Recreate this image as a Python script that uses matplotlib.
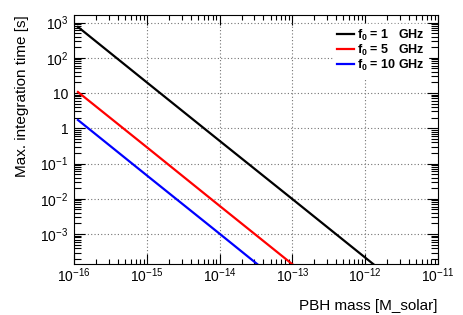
import matplotlib
matplotlib.use('Agg')
import matplotlib.pyplot as plt
from matplotlib.ticker import FixedLocator, FixedFormatter, LogLocator, NullFormatter

plt.rcParams['font.family'] = ['Liberation Sans', 'DejaVu Sans']
plt.rcParams['mathtext.fontset'] = 'custom'
plt.rcParams['mathtext.rm'] = 'Liberation Sans'
plt.rcParams['mathtext.it'] = 'Liberation Sans:italic'
plt.rcParams['mathtext.bf'] = 'Liberation Sans:bold'

# PBH mass [M_solar] and max. integration time [s]
mass = [1.13e-16, 1e-15, 1e-14, 1e-13, 1e-12, 1e-11]
t_1ghz = [750, 20, 0.44, 9.8e-3, 2.15e-4, 4.7e-6]
t_5ghz = [10.7, 0.29, 6.3e-3, 1.39e-4, 3.1e-6, 6.8e-8]
t_10ghz = [1.72, 0.046, 1.02e-3, 2.2e-5, 4.9e-7, 1.1e-8]

labels = ['f$_\\mathbf{0}$ = 1   GHz', 'f$_\\mathbf{0}$ = 5   GHz', 'f$_\\mathbf{0}$ = 10 GHz']
colors = ['black', 'red', 'blue']

xticks = [1e-16, 1e-15, 1e-14, 1e-13, 1e-12, 1e-11]
xlabels = ['$10^{-16}$', '$10^{-15}$', '$10^{-14}$', '$10^{-13}$', '$10^{-12}$', '$10^{-11}$']
yticks = [1e-3, 1e-2, 1e-1, 1, 10, 1e2, 1e3]
ylabels = ['$10^{-3}$', '$10^{-2}$', '$10^{-1}$', '1', '10', '$10^{2}$', '$10^{3}$']

fig = plt.figure(figsize=(4.63, 3.15), dpi=100)
ax = fig.add_axes([0.16, 0.162, 0.786, 0.79])

for y, c, lab in zip([t_1ghz, t_5ghz, t_10ghz], colors, labels):
    ax.plot(mass, y, color=c, lw=1.6, label=lab)

ax.set_xscale('log')
ax.set_yscale('log')
ax.set_xlim(1e-16, 1e-11)
ax.set_ylim(1.42e-4, 1.62e3)

ax.xaxis.set_major_locator(FixedLocator(xticks))
ax.xaxis.set_major_formatter(FixedFormatter(xlabels))
ax.yaxis.set_major_locator(FixedLocator(yticks))
ax.yaxis.set_major_formatter(FixedFormatter(ylabels))
ax.xaxis.set_minor_locator(LogLocator(base=10, subs=range(2, 10), numticks=20))
ax.yaxis.set_minor_locator(LogLocator(base=10, subs=range(2, 10), numticks=20))
ax.xaxis.set_minor_formatter(NullFormatter())
ax.yaxis.set_minor_formatter(NullFormatter())

ax.tick_params(which='both', direction='in', top=True, right=True, labelsize=10, width=0.8)
ax.tick_params(axis='x', which='major', length=7, pad=2)
ax.tick_params(axis='x', which='minor', length=3.5)
ax.tick_params(axis='y', which='major', length=8, pad=4)
ax.tick_params(axis='y', which='minor', length=5)

ax.grid(True, which='major', color='0.45', linestyle=(0, (1, 2)), lw=0.8)

ax.set_xlabel('PBH mass [M_solar]', fontsize=11, loc='right', labelpad=10)
ax.set_ylabel('Max. integration time [s]', fontsize=11, loc='top', labelpad=8)

leg = ax.legend(loc='upper left', bbox_to_anchor=(0.696, 0.99), frameon=True,
                fancybox=False, edgecolor='white', framealpha=1,
                prop={'weight': 'bold', 'size': 9}, handlelength=1.3,
                handletextpad=0.25, labelspacing=0.0, borderpad=0.3)

fig.savefig('out.png', dpi=100)
